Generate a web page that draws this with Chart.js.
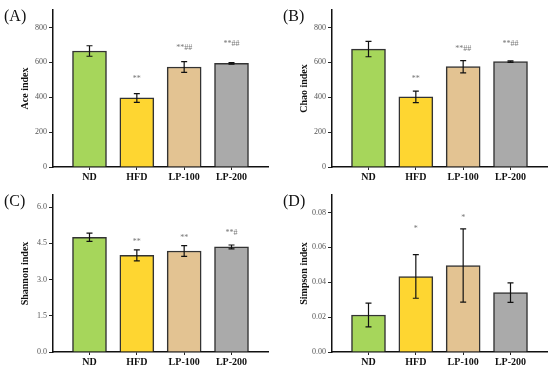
<!DOCTYPE html>
<html>
<head>
<meta charset="utf-8">
<script src="https://cdn.jsdelivr.net/npm/chart.js@4.4.0/dist/chart.umd.min.js"></script>
<style>
  html, body { margin: 0; padding: 0; background: #fff; }
  body { width: 550px; height: 375px; position: relative; overflow: hidden; }
  .panel { position: absolute; width: 271px; height: 185px; }
</style>
</head>
<body>
<div class="panel" style="left:0;top:0"><canvas id="chartA"></canvas></div>
<div class="panel" style="left:279px;top:0"><canvas id="chartB"></canvas></div>
<div class="panel" style="left:0;top:185px"><canvas id="chartC"></canvas></div>
<div class="panel" style="left:279px;top:185px"><canvas id="chartD"></canvas></div>
<script>
// Datos
const groups = ["ND", "HFD", "LP-100", "LP-200"];
const barColors = ["#a6d65b", "#fed631", "#e3c392", "#aaaaaa"];

const aceMean = [665, 396, 573, 594];
const aceErr = [30, 25, 31, 4];
const aceMarks = ["", "**", "**##", "**##"];
const aceMarkY = [null, 507, 680, 703];
const aceTicks = [0, 200, 400, 600, 800];

const chaoMean = [676, 402, 575, 604];
const chaoErr = [44, 33, 35, 4];
const chaoMarks = ["", "**", "**##", "**##"];
const chaoMarkY = [null, 505, 676, 708];
const chaoTicks = [0, 200, 400, 600, 800];

const shannonMean = [4.75, 4.0, 4.18, 4.35];
const shannonErr = [0.17, 0.23, 0.22, 0.08];
const shannonMarks = ["", "**", "**", "**#"];
const shannonMarkY = [null, 4.57, 4.73, 4.91];
const shannonTicks = [0, 1.5, 3.0, 4.5, 6.0];

const simpsonMean = [0.0212, 0.0433, 0.0496, 0.034];
const simpsonErr = [0.0068, 0.0125, 0.021, 0.0056];
const simpsonMarks = ["", "*", "*", ""];
const simpsonMarkY = [null, 0.0705, 0.0766, null];
const simpsonTicks = [0, 0.02, 0.04, 0.06, 0.08];

const serif = "'Liberation Serif', 'Times New Roman', serif";

// Barras de error, marcas y letra del panel
const extrasPlugin = {
  id: "extras",
  afterDatasetsDraw(chart, args, opts) {
    const ctx = chart.ctx;
    const x = chart.scales.x;
    const y = chart.scales.y;
    ctx.save();
    ctx.strokeStyle = "#111";
    ctx.lineWidth = 1.2;
    opts.mean.forEach((m, i) => {
      const px = x.getPixelForValue(i + 1);
      const top = y.getPixelForValue(m + opts.err[i]);
      const bot = y.getPixelForValue(m - opts.err[i]);
      ctx.beginPath();
      ctx.moveTo(px, top); ctx.lineTo(px, bot);
      ctx.moveTo(px - 3, top); ctx.lineTo(px + 3, top);
      ctx.moveTo(px - 3, bot); ctx.lineTo(px + 3, bot);
      ctx.stroke();
    });
    ctx.fillStyle = "#777";
    ctx.font = "8px " + serif;
    ctx.textAlign = "center";
    ctx.textBaseline = "middle";
    opts.marks.forEach((t, i) => {
      if (!t || opts.markY[i] == null) return;
      ctx.fillText(t, x.getPixelForValue(i + 1), y.getPixelForValue(opts.markY[i]));
    });
    ctx.fillStyle = "#111";
    ctx.font = "16px " + serif;
    ctx.textAlign = "left";
    ctx.textBaseline = "alphabetic";
    ctx.fillText(opts.letter, 4, 21);
    ctx.restore();
  }
};

function createChart(id, letter, title, mean, err, marks, markY, ticks, yMax, digits) {
  return new Chart(document.getElementById(id), {
    type: "bar",
    data: {
      datasets: [
        {
          data: mean.map((v, i) => ({ x: i + 1, y: v })),
          backgroundColor: barColors,
          borderColor: "#333",
          borderWidth: 1.5,
          barThickness: 34
        }
      ]
    },
    options: {
      responsive: true,
      maintainAspectRatio: false,
      animation: false,
      layout: { padding: { top: 10, right: 3, left: 0, bottom: 0 } },
      plugins: {
        legend: { display: false },
        tooltip: { enabled: false },
        extras: { letter, mean, err, marks, markY }
      },
      scales: {
        x: {
          type: "linear",
          offset: false,
          min: 0.229,
          max: 4.771,
          afterBuildTicks: s => { s.ticks = groups.map((g, i) => ({ value: i + 1 })); },
          afterFit: s => { s.height = 18; },
          grid: { drawOnChartArea: false, tickLength: 3, color: "#222", offset: false },
          border: { color: "#111", width: 1.5 },
          ticks: {
            padding: 1,
            color: "#111",
            font: { family: serif, size: 10, weight: "bold" },
            callback: v => groups[v - 1] || ""
          }
        },
        y: {
          min: 0,
          max: yMax,
          afterBuildTicks: s => { s.ticks = ticks.map(v => ({ value: v })); },
          afterFit: s => { s.width = 53; },
          grid: { drawOnChartArea: false, tickLength: 4, color: "#222" },
          border: { color: "#111", width: 1.5 },
          ticks: {
            padding: 2,
            color: "#555",
            font: { family: serif, size: 8 },
            callback: v => v.toFixed(digits)
          },
          title: {
            display: true,
            text: title,
            color: "#111",
            padding: { top: 19, bottom: 0 },
            font: { family: serif, size: 10, weight: "bold" }
          }
        }
      }
    },
    plugins: [extrasPlugin]
  });
}

createChart("chartA", "(A)", "Ace index", aceMean, aceErr, aceMarks, aceMarkY, aceTicks, 900, 0);
createChart("chartB", "(B)", "Chao index", chaoMean, chaoErr, chaoMarks, chaoMarkY, chaoTicks, 900, 0);
createChart("chartC", "(C)", "Shannon index", shannonMean, shannonErr, shannonMarks, shannonMarkY, shannonTicks, 6.5, 1);
createChart("chartD", "(D)", "Simpson index", simpsonMean, simpsonErr, simpsonMarks, simpsonMarkY, simpsonTicks, 0.09, 2);
</script>
</body>
</html>
